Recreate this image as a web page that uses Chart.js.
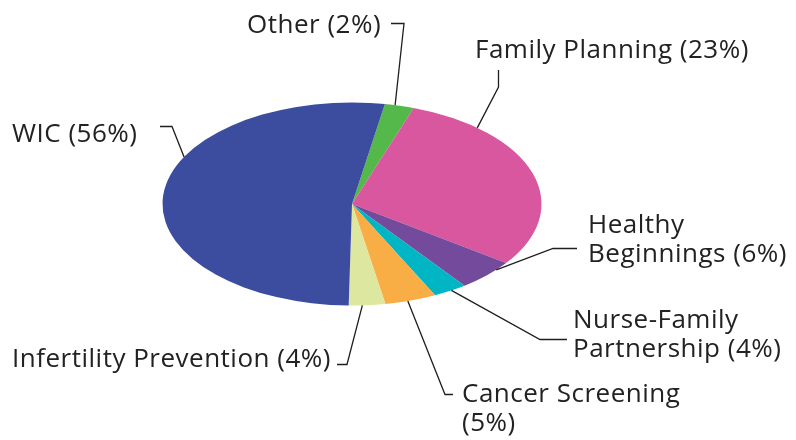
<!DOCTYPE html>
<html>
<head>
<meta charset="utf-8">
<script src="https://cdn.jsdelivr.net/npm/chart.js@4/dist/chart.umd.min.js"></script>
<style>
  html, body { margin: 0; padding: 0; background: #ffffff; }
  #wrap { width: 796px; height: 440px; }
</style>
</head>
<body>
<div id="wrap"><canvas id="c" width="796" height="440"></canvas></div>
<script>
// ---- data (clockwise from the top) ----
const categories = ["Other", "Family Planning", "Healthy Beginnings", "Nurse-Family Partnership", "Cancer Screening", "Infertility Prevention", "WIC"];
const percentLabels = ["2%", "23%", "6%", "4%", "5%", "4%", "56%"];
// slice shares as drawn in the picture
const sliceShares = [2.5, 29.6, 5.0, 2.9, 4.4, 3.1, 52.5];
const sliceColors = ["#55B84B", "#D9579F", "#744A9C", "#00B5C4", "#F9AD45", "#DDE7A0", "#3C4D9F"];

// ---- layout of labels / leaders ----
const ELLIPSE_SX = 189.5 / 101.5;
const labelLayout = [
  { x: 247, y: 33, breakAt: 0, frac: 0.35, path: [[404, 23.5], [391, 23.5]] },
  { x: 475, y: 58, breakAt: 0, frac: 0.21, path: [[498.5, 87], [498.5, 70]] },
  { x: 588, y: 233, breakAt: 1, frac: 0.27, path: [[553, 248.5], [577, 248.5]] },
  { x: 573, y: 328, breakAt: 1, frac: 0.46, path: [[540, 339.5], [567, 339.5]] },
  { x: 462, y: 402, breakAt: 2, frac: 0.56, path: [[445, 394.5], [453, 394.5]] },
  { x: 12, y: 367, breakAt: 0, frac: 0.63, path: [[347, 364.5], [337, 364.5]] },
  { x: 12, y: 142, breakAt: 0, frac: 0.617, path: [[172, 126.5], [160, 126.5]] }
];
const LINE_H = 29;
const FONT = '400 26px "Open Sans", "Noto Sans", sans-serif';

const ellipsePlugin = {
  id: 'ellipse',
  beforeDatasetsDraw(chart) {
    const a = chart.getDatasetMeta(0).data[0];
    const ctx = chart.ctx;
    ctx.save();
    ctx.translate(a.x, a.y);
    ctx.scale(ELLIPSE_SX, 1);
    ctx.translate(-a.x, -a.y);
  },
  afterDatasetsDraw(chart) {
    const ctx = chart.ctx;
    ctx.restore();
    const arcs = chart.getDatasetMeta(0).data;
    ctx.save();
    ctx.font = FONT;
    ctx.fillStyle = '#222222';
    ctx.textBaseline = 'alphabetic';
    ctx.textAlign = 'left';
    if ('letterSpacing' in ctx) ctx.letterSpacing = '0.5px';
    arcs.forEach((arc, i) => {
      const L = labelLayout[i];
      const rx = arc.outerRadius * ELLIPSE_SX, ry = arc.outerRadius;
      const ang = arc.startAngle + (arc.endAngle - arc.startAngle) * L.frac;
      const ax = arc.x + rx * Math.cos(ang), ay = arc.y + ry * Math.sin(ang);
      ctx.strokeStyle = '#1f1f1f';
      ctx.lineWidth = 1.3;
      ctx.beginPath();
      ctx.moveTo(ax, ay);
      L.path.forEach(p => ctx.lineTo(p[0], p[1]));
      ctx.stroke();
      const full = categories[i] + ' (' + percentLabels[i] + ')';
      let lines = [full];
      if (L.breakAt > 0) {
        const w = full.split(' ');
        lines = [w.slice(0, L.breakAt).join(' '), w.slice(L.breakAt).join(' ')];
      }
      lines.forEach((t, k) => ctx.fillText(t, L.x, L.y + k * LINE_H));
    });
    ctx.restore();
  }
};

new Chart(document.getElementById('c'), {
  type: 'pie',
  data: {
    labels: categories,
    datasets: [{
      data: sliceShares,
      backgroundColor: sliceColors,
      borderWidth: 0
    }]
  },
  options: {
    responsive: false,
    animation: false,
    rotation: 10,
    radius: 101.5,
    layout: { padding: { left: 0, right: 92, top: 0, bottom: 32 } },
    events: [],
    plugins: { legend: { display: false }, tooltip: { enabled: false } }
  },
  plugins: [ellipsePlugin]
});
</script>
</body>
</html>
